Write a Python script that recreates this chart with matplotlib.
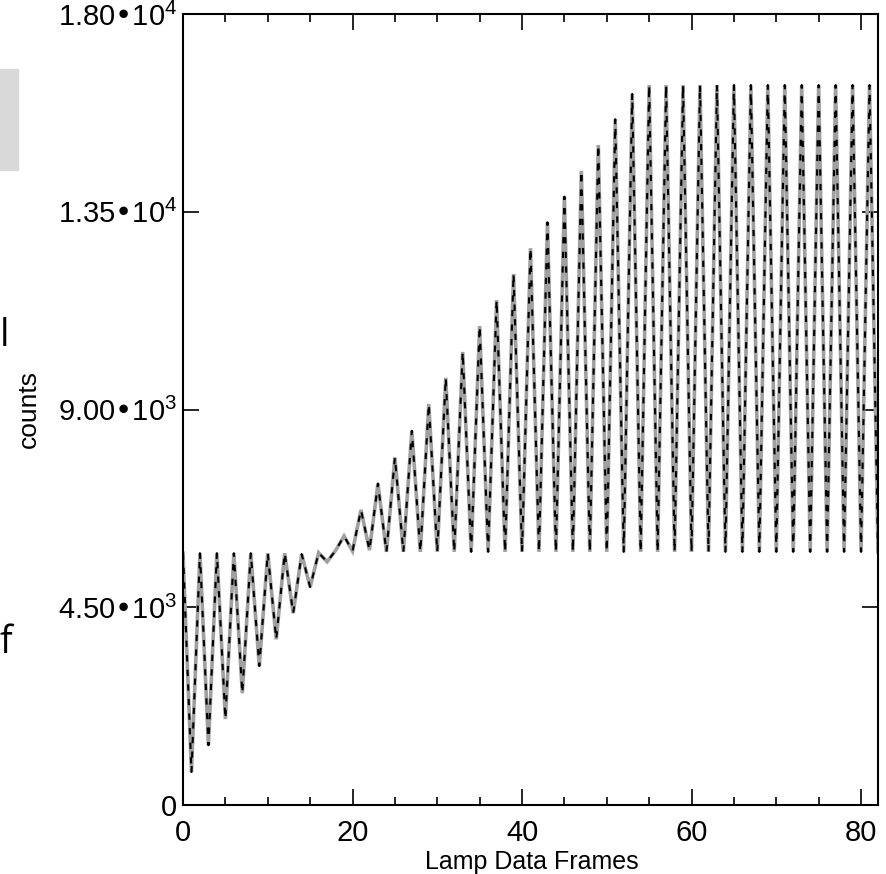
import matplotlib
matplotlib.use('Agg')
import matplotlib.pyplot as plt
from matplotlib.patches import Rectangle
from matplotlib.ticker import MultipleLocator

plt.rcParams['font.family'] = ['Liberation Sans', 'DejaVu Sans']
plt.rcParams['mathtext.default'] = 'regular'

# lamp frames 0..82, even frames = dark level, odd frames = lamp ramp (saturates at 16384)
frames = list(range(83))
counts = [
    5730, 750, 5730, 1360, 5730, 1955, 5730, 2545, 5730, 3160,
    5730, 3770, 5730, 4365, 5710, 4960, 5740, 5535, 5790, 6120,
    5780, 6715, 5800, 7315, 5760, 7910, 5760, 8515, 5760, 9125,
    5760, 9720, 5760, 10310, 5760, 10900, 5760, 11490, 5760, 12085,
    5760, 12670, 5760, 13260, 5760, 13845, 5760, 14430, 5760, 15020,
    5760, 15605, 5760, 16180, 5760, 16384, 5760, 16384, 5760, 16384,
    5760, 16384, 5760, 16384, 5760, 16384, 5760, 16384, 5760, 16384,
    5760, 16384, 5760, 16384, 5760, 16384, 5760, 16384, 5760, 16384,
    5760, 16384, 5760,
]

yticks = [0, 4500, 9000, 13500, 18000]
ytick_labels = ['0', '4.50•10$^{3}$', '9.00•10$^{3}$', '1.35•10$^{4}$', '1.80•10$^{4}$']
xticks = [0, 20, 40, 60, 80]

fig = plt.figure(figsize=(8.87, 8.74), dpi=100)
ax = fig.add_axes([183 / 887, 69 / 874, 695 / 887, 791 / 874])

# gray line with black dashes on top, like the scanned plot
ax.plot(frames, counts, color='#a0a0a0', lw=2.6, solid_joinstyle='miter')
ax.plot(frames, counts, color='black', lw=1.5, dashes=(3, 4))

ax.set_xlim(0, 82)
ax.set_ylim(0, 18000)
ax.set_xticks(xticks)
ax.xaxis.set_minor_locator(MultipleLocator(5))
ax.set_yticks(yticks)
ax.set_yticklabels(ytick_labels)

for s in ax.spines.values():
    s.set_linewidth(1.5)
ax.tick_params(which='both', direction='in', top=True, right=True, width=1.2)
ax.tick_params(which='major', length=11.5)
ax.tick_params(which='minor', length=6)
ax.tick_params(axis='x', labelsize=21, pad=10)
ax.tick_params(axis='y', labelsize=21, pad=4)

ax.set_xlabel('Lamp Data Frames', fontsize=18)
ax.xaxis.set_label_coords(0.502, -0.057)
ax.set_ylabel('counts', fontsize=19)
ax.yaxis.set_label_coords(-0.205, 0.5)

# bits of the surrounding page
fig.patches.append(Rectangle((0, 1 - 170 / 874), 18 / 887, 101 / 874,
                             transform=fig.transFigure, color='#d9d9d9', zorder=0))
fig.text(0.0, 1 - 346 / 874, 'l', fontsize=27, family='Open Sans', va='baseline')
fig.text(0.0, 1 - 653 / 874, 'f', fontsize=27, family='Open Sans', va='baseline')

fig.savefig('out.png', dpi=100)
